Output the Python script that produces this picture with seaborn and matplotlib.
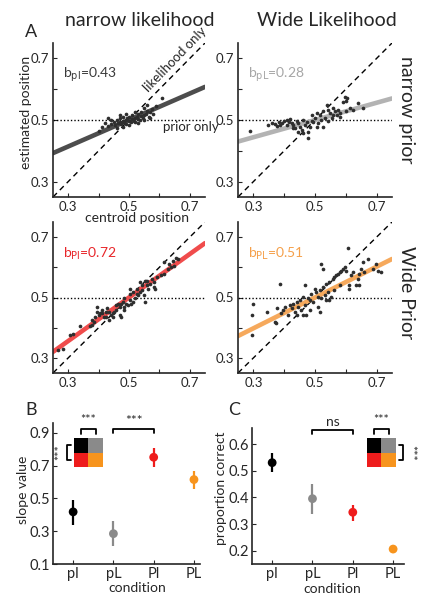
import numpy as np
import pandas as pd
import seaborn as sns
import matplotlib.pyplot as plt

# ---- panel A scatter data (centroid position, estimated position) ----
# narrow prior, narrow likelihood (pl)
pl_x = [0.400, 0.410, 0.420, 0.430, 0.440, 0.450, 0.455, 0.460, 0.465, 0.470, 0.470, 0.475, 0.480, 0.480,
        0.485, 0.490, 0.490, 0.495, 0.500, 0.500, 0.505, 0.510, 0.510, 0.515, 0.520, 0.520, 0.525, 0.530,
        0.530, 0.535, 0.540, 0.540, 0.545, 0.550, 0.550, 0.555, 0.560, 0.565, 0.570, 0.575, 0.580, 0.590,
        0.610, 0.560, 0.550, 0.480, 0.460, 0.430, 0.440, 0.500, 0.520, 0.530, 0.570, 0.470, 0.490]
pl_y = [0.463, 0.476, 0.490, 0.505, 0.488, 0.492, 0.483, 0.500, 0.490, 0.495, 0.505, 0.487, 0.498, 0.510,
        0.493, 0.500, 0.488, 0.505, 0.497, 0.510, 0.492, 0.503, 0.515, 0.498, 0.507, 0.495, 0.510, 0.503,
        0.518, 0.500, 0.512, 0.525, 0.506, 0.515, 0.500, 0.520, 0.530, 0.510, 0.525, 0.535, 0.520, 0.545,
        0.570, 0.550, 0.540, 0.478, 0.475, 0.480, 0.500, 0.485, 0.525, 0.490, 0.505, 0.515, 0.520]

# narrow prior, wide likelihood (pL)
pL_x = [0.288, 0.349, 0.360, 0.371, 0.382, 0.387, 0.398, 0.409, 0.414, 0.419, 0.425, 0.430, 0.435, 0.441,
        0.446, 0.452, 0.457, 0.462, 0.468, 0.473, 0.478, 0.484, 0.489, 0.489, 0.495, 0.500, 0.505, 0.511,
        0.516, 0.521, 0.527, 0.532, 0.538, 0.543, 0.548, 0.554, 0.559, 0.564, 0.570, 0.575, 0.581, 0.591,
        0.602, 0.613, 0.624, 0.640, 0.656, 0.478, 0.462, 0.446, 0.430, 0.527, 0.505, 0.543, 0.559, 0.581,
        0.602, 0.409, 0.376, 0.393, 0.598, 0.605]
pL_y = [0.464, 0.484, 0.489, 0.486, 0.493, 0.484, 0.497, 0.500, 0.493, 0.503, 0.489, 0.484, 0.473, 0.497,
        0.489, 0.478, 0.467, 0.500, 0.484, 0.493, 0.462, 0.478, 0.497, 0.517, 0.493, 0.506, 0.522, 0.489,
        0.517, 0.500, 0.528, 0.508, 0.550, 0.533, 0.522, 0.506, 0.538, 0.528, 0.515, 0.533, 0.522, 0.560,
        0.563, 0.538, 0.533, 0.555, 0.538, 0.440, 0.457, 0.462, 0.473, 0.478, 0.478, 0.497, 0.517, 0.511,
        0.528, 0.484, 0.482, 0.489, 0.575, 0.570]

# wide prior, narrow likelihood (Pl)
Pl_x = [0.267, 0.282, 0.305, 0.316, 0.338, 0.372, 0.378, 0.384, 0.389, 0.395, 0.395, 0.401, 0.406, 0.412,
        0.418, 0.423, 0.429, 0.435, 0.440, 0.446, 0.452, 0.457, 0.463, 0.469, 0.474, 0.480, 0.485, 0.485,
        0.491, 0.497, 0.502, 0.502, 0.508, 0.514, 0.519, 0.525, 0.531, 0.536, 0.536, 0.542, 0.548, 0.553,
        0.553, 0.559, 0.564, 0.570, 0.576, 0.581, 0.587, 0.593, 0.604, 0.615, 0.627, 0.615, 0.632, 0.638,
        0.644, 0.649, 0.655, 0.661, 0.469, 0.485, 0.474, 0.446, 0.457, 0.514, 0.525, 0.542, 0.502, 0.559,
        0.581, 0.378, 0.412, 0.423, 0.435]
Pl_y = [0.325, 0.328, 0.377, 0.379, 0.407, 0.404, 0.410, 0.418, 0.437, 0.453, 0.469, 0.442, 0.448, 0.459,
        0.437, 0.453, 0.464, 0.453, 0.442, 0.448, 0.453, 0.459, 0.477, 0.469, 0.437, 0.486, 0.497, 0.469,
        0.480, 0.475, 0.491, 0.529, 0.480, 0.486, 0.497, 0.513, 0.507, 0.518, 0.551, 0.524, 0.507, 0.556,
        0.486, 0.540, 0.529, 0.545, 0.562, 0.535, 0.529, 0.567, 0.573, 0.578, 0.594, 0.616, 0.611, 0.600,
        0.622, 0.605, 0.632, 0.627, 0.442, 0.459, 0.480, 0.437, 0.475, 0.518, 0.529, 0.540, 0.513, 0.556,
        0.551, 0.426, 0.448, 0.437, 0.426]

# wide prior, wide likelihood (PL)
PL_x = [0.295, 0.295, 0.300, 0.343, 0.370, 0.375, 0.378, 0.386, 0.391, 0.397, 0.402, 0.413, 0.418, 0.424,
        0.429, 0.434, 0.440, 0.440, 0.445, 0.450, 0.456, 0.461, 0.467, 0.467, 0.472, 0.477, 0.483, 0.488,
        0.493, 0.499, 0.504, 0.510, 0.510, 0.515, 0.520, 0.526, 0.531, 0.536, 0.536, 0.542, 0.547, 0.547,
        0.553, 0.558, 0.563, 0.569, 0.574, 0.580, 0.585, 0.590, 0.596, 0.601, 0.606, 0.612, 0.617, 0.623,
        0.633, 0.639, 0.644, 0.644, 0.649, 0.655, 0.660, 0.671, 0.687, 0.698, 0.703, 0.714, 0.520, 0.526,
        0.612, 0.580, 0.563, 0.515, 0.483, 0.461]
PL_y = [0.442, 0.377, 0.480, 0.453, 0.420, 0.415, 0.466, 0.546, 0.448, 0.459, 0.469, 0.442, 0.475, 0.464,
        0.480, 0.453, 0.486, 0.442, 0.469, 0.491, 0.459, 0.502, 0.542, 0.475, 0.442, 0.497, 0.459, 0.513,
        0.486, 0.529, 0.518, 0.469, 0.502, 0.524, 0.497, 0.535, 0.507, 0.546, 0.491, 0.518, 0.551, 0.491,
        0.502, 0.562, 0.567, 0.573, 0.578, 0.584, 0.589, 0.594, 0.600, 0.589, 0.665, 0.540, 0.573, 0.584,
        0.540, 0.562, 0.540, 0.578, 0.594, 0.616, 0.584, 0.627, 0.594, 0.611, 0.589, 0.585, 0.611, 0.594,
        0.529, 0.540, 0.524, 0.453, 0.491, 0.442]

slopes = [0.43, 0.28, 0.72, 0.51]
slope_tags = ['pl', 'pL', 'Pl', 'PL']

# ---- panels B and C ----
conditions = ['pl', 'pL', 'Pl', 'PL']
slope_mean = [0.418, 0.285, 0.751, 0.615]
slope_lo = [0.340, 0.212, 0.690, 0.558]
slope_hi = [0.489, 0.360, 0.808, 0.666]
correct_mean = [0.530, 0.395, 0.344, 0.206]
correct_lo = [0.494, 0.339, 0.311, 0.194]
correct_hi = [0.566, 0.450, 0.372, 0.220]

cond_colors = ['#000000', '#8a8a8a', '#ee1c1c', '#f7941d']
line_colors = ['#4d4d4d', '#b3b3b3', '#f04c4c', '#f6a95c']
text_colors = ['#3a3a3a', '#a6a6a6', '#e8262a', '#f5a04a']

sns.set_style('ticks')
plt.rcParams['font.family'] = ['Lato', 'DejaVu Sans']
plt.rcParams['xtick.direction'] = 'in'
plt.rcParams['ytick.direction'] = 'in'
plt.rcParams['xtick.major.size'] = 3
plt.rcParams['ytick.major.size'] = 3
plt.rcParams['axes.linewidth'] = 1.2

W, H = 431, 600
fig = plt.figure(figsize=(W / 100, H / 100), dpi=100)


def px_axes(l, t, r, b):
    ax = fig.add_axes([l / W, 1 - b / H, (r - l) / W, (b - t) / H])
    ax.set_facecolor('none')
    return ax


def scatter_panel(ax, xs, ys, k):
    grid = np.array([0.25, 0.75])
    ax.plot(grid, grid, color='k', lw=1, ls=(0, (4, 3)), zorder=1)
    ax.axhline(0.5, color='k', lw=1, ls=(0, (1, 1.5)), zorder=1)
    sns.lineplot(x=grid, y=0.5 + slopes[k] * (grid - 0.5), color=line_colors[k], lw=3.3, ax=ax, zorder=2)
    df = pd.DataFrame({'x': xs, 'y': ys})
    sns.scatterplot(data=df, x='x', y='y', color='#2e2e2e', s=7, linewidth=0, ax=ax, zorder=3)
    ax.set(xlim=(0.25, 0.75), ylim=(0.25, 0.75), xlabel='', ylabel='')
    ticks = [0.3, 0.4, 0.5, 0.6, 0.7]
    labels = ['0.3', '', '0.5', '', '0.7']
    ax.set_xticks(ticks, labels)
    ax.set_yticks(ticks, labels)
    ax.tick_params(labelsize=9.5, pad=3)
    sns.despine(ax=ax)
    ax.text(0.283, 0.645, r'b$_{\rm %s}$=%.2f' % (slope_tags[k], slopes[k]), color=text_colors[k],
            fontsize=10, va='center', ha='left')


ax_tl = px_axes(53, 43, 205, 197)
ax_tr = px_axes(238, 43, 392, 197)
ax_bl = px_axes(53, 222, 205, 373)
ax_br = px_axes(238, 222, 392, 373)

scatter_panel(ax_tl, pl_x, pl_y, 0)
scatter_panel(ax_tr, pL_x, pL_y, 1)
scatter_panel(ax_bl, Pl_x, Pl_y, 2)
scatter_panel(ax_br, PL_x, PL_y, 3)

ax_tl.set_ylabel('estimated position', fontsize=10)
ax_tl.yaxis.set_label_coords(-0.14, 0.55)
ax_tl.set_xlabel('centroid position', fontsize=10)
ax_tl.xaxis.set_label_coords(0.55, -0.10)
ax_tl.text(0.652, 0.697, 'likelihood only', rotation=46, fontsize=9.5, ha='center', va='center',
           rotation_mode='anchor', clip_on=False)
ax_tl.text(0.612, 0.477, 'prior only', fontsize=9.5, ha='left', va='center', clip_on=False)

fig.text(140 / W, 1 - 20 / H, 'narrow likelihood', fontsize=14, ha='center', va='center')
fig.text(327 / W, 1 - 20 / H, 'Wide Likelihood', fontsize=14, ha='center', va='center')
fig.text(407 / W, 1 - 110 / H, 'narrow prior', fontsize=14, ha='center', va='center', rotation=-90)
fig.text(407 / W, 1 - 293 / H, 'Wide Prior', fontsize=14, ha='center', va='center', rotation=-90)
fig.text(31 / W, 1 - 32 / H, 'A', fontsize=13, ha='center', va='center')
fig.text(31 / W, 1 - 410 / H, 'B', fontsize=13, ha='center', va='center')
fig.text(234 / W, 1 - 410 / H, 'C', fontsize=13, ha='center', va='center')


def summary_panel(ax, mean, lo, hi):
    df = pd.DataFrame({'condition': conditions, 'value': mean})
    ax.vlines(range(4), lo, hi, colors=cond_colors, lw=1.6, zorder=2)
    sns.scatterplot(data=df, x='condition', y='value', hue='condition', palette=cond_colors,
                    s=40, linewidth=0, legend=False, ax=ax, zorder=3)
    ax.tick_params(labelsize=10.5, pad=2)
    sns.despine(ax=ax)


def bracket(ax, x0, x1, y, h, label):
    ax.plot([x0, x0, x1, x1], [y - h, y, y, y - h], color='k', lw=1.3, clip_on=False)
    ax.text((x0 + x1) / 2, y + h * 0.5, label, ha='center', va='bottom', fontsize=10, clip_on=False)


ax_b = px_axes(53, 423, 200, 564)
summary_panel(ax_b, slope_mean, slope_lo, slope_hi)
ax_b.set(xlim=(-0.5, 3.15), ylim=(0.1, 0.96))
ax_b.set_yticks([0.1, 0.3, 0.5, 0.7, 0.9], ['0.1', '0.3', '0.5', '0.7', '0.9'])
ax_b.set_ylabel('slope value', fontsize=10)
ax_b.yaxis.set_label_coords(-0.165, 0.525)
ax_b.set_xlabel('condition', fontsize=10)
ax_b.xaxis.set_label_coords(0.57, -0.13)
bracket(ax_b, 1, 2, 0.925, 0.025, '***')

ax_c = px_axes(252, 428, 404, 564)
summary_panel(ax_c, correct_mean, correct_lo, correct_hi)
ax_c.set(xlim=(-0.5, 3.27), ylim=(0.15, 0.66))
ax_c.set_yticks([0.2, 0.3, 0.4, 0.5, 0.6], ['0.2', '0.3', '0.4', '0.5', '0.6'])
ax_c.set_ylabel('proportion correct', fontsize=10)
ax_c.yaxis.set_label_coords(-0.165, 0.56)
ax_c.set_xlabel('condition', fontsize=10)
ax_c.xaxis.set_label_coords(0.53, -0.14)
bracket(ax_c, 1, 2, 0.652, 0.015, 'ns')


def inset(l, t, side):
    ax = px_axes(l, t, l + 29, t + 29)
    grid = pd.DataFrame([[0, 1], [2, 3]])
    sns.heatmap(grid, cmap=cond_colors, cbar=False, ax=ax, xticklabels=False, yticklabels=False)
    ax.plot([0.5, 0.5, 1.5, 1.5], [-0.3, -0.6, -0.6, -0.3], color='k', lw=1.3, clip_on=False)
    ax.text(1.0, -0.8, '***', ha='center', va='bottom', fontsize=9, clip_on=False)
    if side == 'left':
        ax.plot([-0.2, -0.45, -0.45, -0.2], [0.5, 0.5, 1.5, 1.5], color='k', lw=1.3, clip_on=False)
        ax.text(-0.55, 1.0, '***', ha='right', va='center', rotation=90, fontsize=9, clip_on=False)
    else:
        ax.plot([2.2, 2.45, 2.45, 2.2], [0.5, 0.5, 1.5, 1.5], color='k', lw=1.3, clip_on=False)
        ax.text(2.55, 1.0, '***', ha='left', va='center', rotation=-90, fontsize=9, clip_on=False)


inset(74, 438, 'left')
inset(367, 438, 'right')

fig.savefig('out.png', dpi=100)
